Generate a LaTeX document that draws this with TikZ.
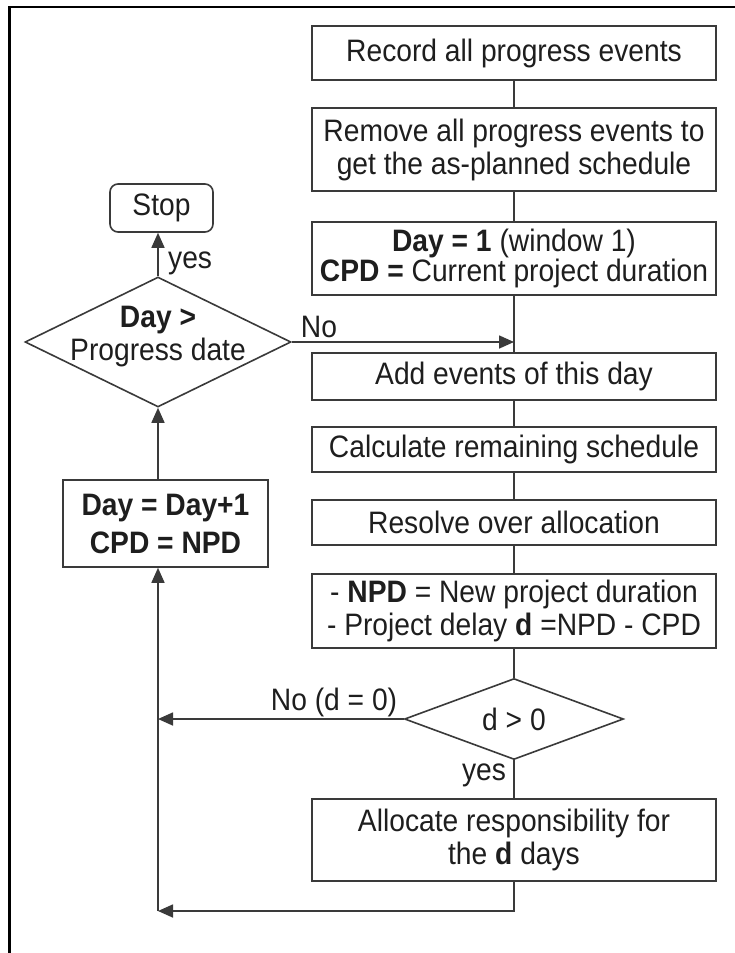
\documentclass[tikz,border=0pt]{standalone}
\usepackage{fontspec}
\setmainfont{Liberation Sans}[FakeStretch=0.91]
\usetikzlibrary{arrows.meta,shapes.geometric}
\definecolor{ink}{HTML}{1E1E1E}
\definecolor{rule}{HTML}{3A3A3A}
\begin{document}
\begin{tikzpicture}[x=1pt,y=-1pt,
  txt/.style={font=\fontsize{31}{33}\selectfont, text=ink},
  stepbox/.style={txt, draw=rule, line width=1.6pt, fill=white, align=center,
    inner sep=0pt, minimum width=404pt},
  decision/.style={diamond, draw=rule, line width=1.6pt, fill=white, inner sep=0pt},
  flow/.style={draw=rule, line width=1.6pt},
  arr/.style={flow, -{Triangle[length=15pt,width=13pt]}},
  tag/.style={txt, inner sep=0pt}
]
\useasboundingbox (0,0) rectangle (735,953);
\fill[white] (0,0) rectangle (735,953);
% frame edges
\draw[line width=3pt, black] (9.5,953) -- (9.5,7);
\draw[line width=2.5pt, black] (8,7) -- (735,7);

% main column
\node[stepbox, minimum height=54pt] (b1) at (514,53) {Record all progress events};
\node[stepbox, minimum height=83pt] (b2) at (514,149.5) {Remove all progress events to\\get the as-planned schedule};
\node[stepbox, minimum height=73pt, font=\fontsize{31}{30}\selectfont] (b3) at (514,258.5) {\textbf{Day = 1} (window 1)\\\textbf{CPD =} Current project duration};
\node[stepbox, minimum height=47pt] (b4) at (514,376.5) {Add events of this day};
\node[stepbox, minimum height=45pt] (b5) at (514,449.5) {Calculate remaining schedule};
\node[stepbox, minimum height=45pt] (b6) at (514,522.5) {Resolve over allocation};
\node[stepbox, minimum height=74pt] (b7) at (514,611) {- \textbf{NPD} = New project duration\\- Project delay \textbf{d} =NPD - CPD};
\node[decision, minimum width=219pt, minimum height=81pt,
  label={[tag]center:d > 0}] (d2) at (514,719) {};
\node[stepbox, minimum height=82pt] (b8) at (514,840) {Allocate responsibility for\\the \textbf{d} days};

% loop column
\node[txt, draw=rule, line width=1.6pt, rounded corners=8pt, fill=white,
  minimum width=103pt, minimum height=48pt, inner sep=0pt] (stop) at (161.5,208) {Stop};
\node[decision, minimum width=266pt, minimum height=130pt,
  label={[tag, align=center, yshift=5pt]center:\textbf{Day >}\\Progress date}] (d1) at (158,342) {};
\node[stepbox, minimum width=205pt, minimum height=87pt,
  font=\fontsize{31}{38}\selectfont\bfseries] (day) at (165.5,523.5) {Day = Day+1\\CPD = NPD};
\coordinate (corner) at (158,911);

% connectors of the main column
\draw[flow] (b1) -- (b2);
\draw[flow] (b2) -- (b3);
\draw[flow] (b3) -- (b4);
\draw[flow] (b4) -- (b5);
\draw[flow] (b5) -- (b6);
\draw[flow] (b6) -- (b7);
\draw[flow] (b7) -- (d2);
\draw[flow] (d2) -- (b8);

% loop connectors
\draw[arr] (d1.north) -- (d1.north |- stop.south);
\draw[arr] (d1.east) -- (b3.south |- d1.east);
\draw[arr] (d2.west) -- (d2.west -| corner);
\draw[arr] (b8.south) |- (corner);
\draw[arr] (corner) -- (corner |- day.south);
\draw[arr] (day.north -| d1.south) -- (d1.south);

% branch labels
\node[tag, anchor=west] (yes1) at (168,263) {yes};
\node[tag] (no1) at (319,327) {No};
\node[tag] (no2) at (334,702) {No (d = 0)};
\node[tag] (yes2) at (484,775) {yes};
\end{tikzpicture}
\end{document}
